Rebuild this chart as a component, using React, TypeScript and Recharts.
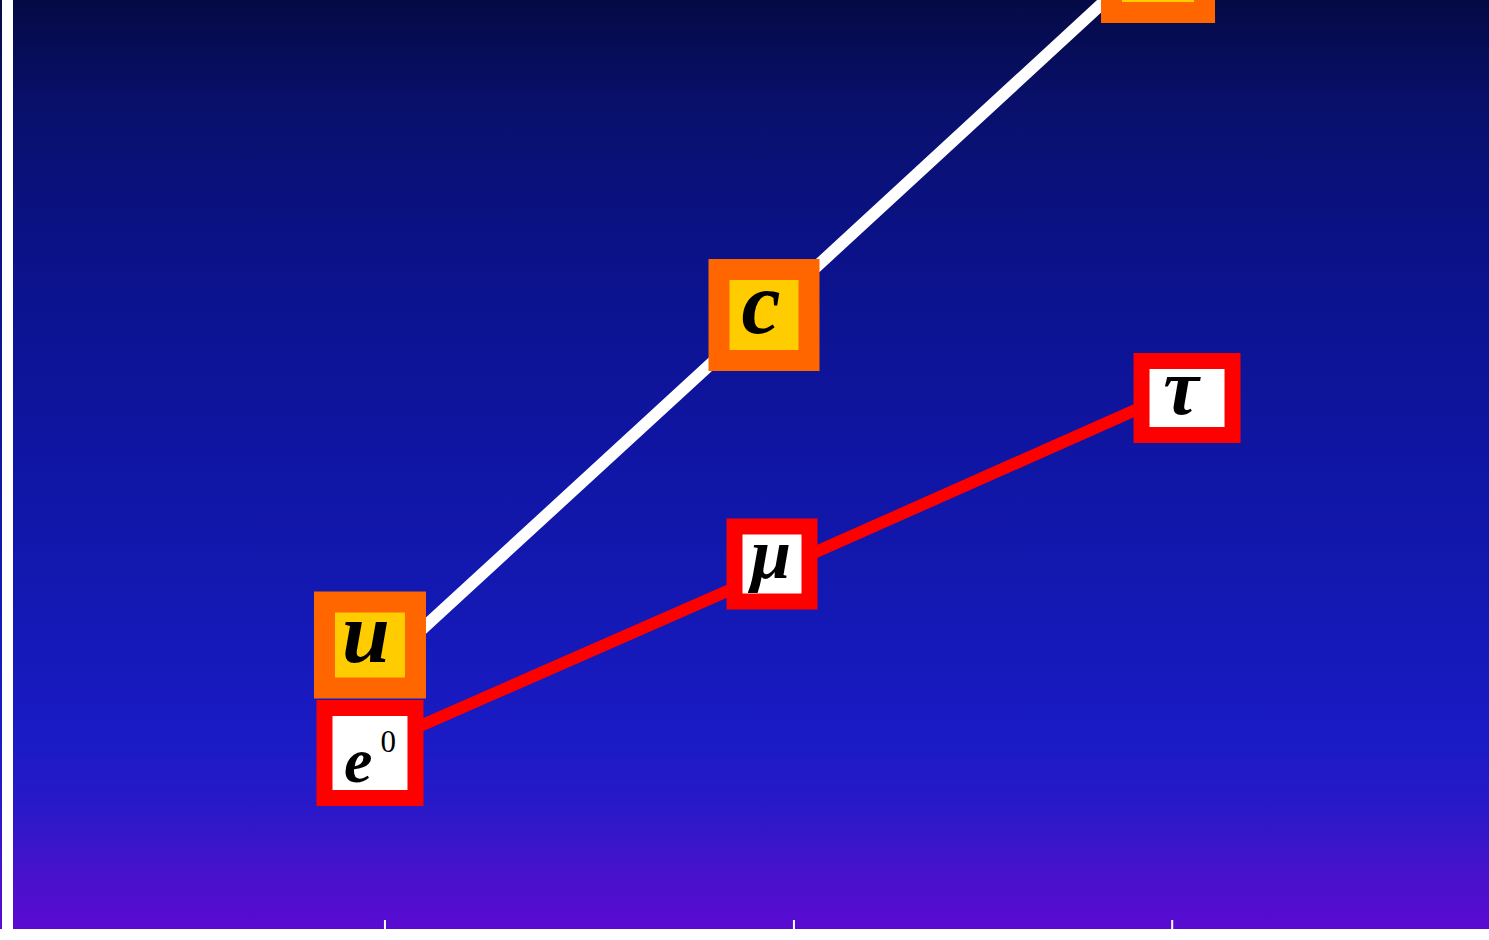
import React from 'react';
import { LineChart, Line, XAxis, YAxis } from 'recharts';

// Generation index on the horizontal axis
const generations = [1, 2, 3];
// Vertical level of each particle (arbitrary log-like units)
const quarkLevels = [252, 614, 977];
const leptonLevels = [181, 354, 529];
// Particle symbols
const quarkNames = ['u', 'c', 't'];
const leptonNames = ['e', 'μ', 'τ'];
const leptonSups = ['0', '', ''];
// Tick positions along the generation axis
const generationTicks = [1.038, 2.076, 3.036];

const rows = generations.map((g, i) => ({
  gen: g,
  quark: quarkLevels[i],
  lepton: leptonLevels[i],
}));

// Badge geometry: size, ring thickness, offset from the point, glyph placement
type Badge = {
  w: number; h: number; ring: number; dx: number; dy: number;
  font: number; tx: number; ty: number; supSize?: number; supRise?: number;
};

const quarkBadges: Badge[] = [
  { w: 112, h: 107, ring: 21, dx: 0, dy: -32, font: 86, tx: -4, ty: 17 },
  { w: 111, h: 112, ring: 21, dx: 0, dy: 0, font: 88, tx: -3, ty: 18 },
  { w: 114, h: 112, ring: 21, dx: 0, dy: 15, font: 88, tx: -3, ty: 18 },
];

const leptonBadges: Badge[] = [
  { w: 107, h: 106, ring: 16, dx: 0, dy: 5, font: 64, tx: 0, ty: 29, supSize: 31, supRise: 30 },
  { w: 91, h: 91, ring: 16, dx: 8, dy: -11, font: 72, tx: -1, ty: 14 },
  { w: 107, h: 90, ring: 16, dx: 29, dy: -2, font: 80, tx: -6, ty: 16 },
];

const makeBadge = (
  names: string[],
  sups: string[],
  badges: Badge[],
  outer: string,
  inner: string,
  tag: string,
) => (props: any) => {
  const { cx, cy, index } = props;
  if (cx == null || cy == null) return <g key={`${tag}-${index}`} />;
  const b = badges[index];
  const x = cx + b.dx;
  const y = cy + b.dy;
  const sup = sups[index];
  return (
    <g key={`${tag}-${index}`}>
      <rect x={x - b.w / 2} y={y - b.h / 2} width={b.w} height={b.h} fill={outer} />
      <rect
        x={x - b.w / 2 + b.ring}
        y={y - b.h / 2 + b.ring}
        width={b.w - 2 * b.ring}
        height={b.h - 2 * b.ring}
        fill={inner}
      />
      <text
        x={x + b.tx}
        y={y + b.ty}
        textAnchor="middle"
        fontFamily="'Liberation Serif', 'Times New Roman', serif"
        fontStyle="italic"
        fontWeight="bold"
        fontSize={b.font}
        fill="#000"
      >
        <tspan>{names[index]}</tspan>
        {sup ? (
          <tspan dx={8} dy={-(b.supRise || 0)} fontStyle="normal" fontWeight="normal" fontSize={b.supSize}>
            {sup}
          </tspan>
        ) : null}
      </text>
    </g>
  );
};

const pageBackground = [
  'linear-gradient(#ffffff, #ffffff) 2px 0 / 11px 935px no-repeat',
  'linear-gradient(to bottom, #050a45 0px, #08106a 100px, #0b1288 250px, #0f15a0 430px, #1318b0 580px, #1a1bc5 740px, #2a19c8 810px, #4a11cc 880px, #5a0bd2 929px) 0 0 / 1489px 929px no-repeat',
  '#ffffff',
].join(', ');

export default function App() {
  return (
    <div
      style={{
        position: 'absolute',
        left: 0,
        top: 0,
        width: 1489,
        height: 940,
        background: pageBackground,
        overflow: 'hidden',
      }}
    >
      <LineChart
        width={1489}
        height={940}
        data={rows}
        margin={{ top: 0, right: 0, bottom: 11, left: 13 }}
      >
        <XAxis
          dataKey="gen"
          type="number"
          domain={[0.094, 3.84]}
          ticks={generationTicks}
          allowDataOverflow
          mirror
          axisLine={false}
          tickLine={{ stroke: '#ffffff', strokeWidth: 2 }}
          tickSize={9}
          tickFormatter={() => ''}
        />
        <YAxis type="number" domain={[0, 929]} allowDataOverflow hide />
        <Line
          dataKey="quark"
          stroke="#ffffff"
          strokeWidth={12}
          isAnimationActive={false}
          dot={makeBadge(quarkNames, ['', '', ''], quarkBadges, '#ff6600', '#ffcc00', 'q')}
          activeDot={false}
        />
        <Line
          dataKey="lepton"
          stroke="#ff0000"
          strokeWidth={12}
          isAnimationActive={false}
          dot={makeBadge(leptonNames, leptonSups, leptonBadges, '#ff0000', '#ffffff', 'l')}
          activeDot={false}
        />
      </LineChart>
    </div>
  );
}
